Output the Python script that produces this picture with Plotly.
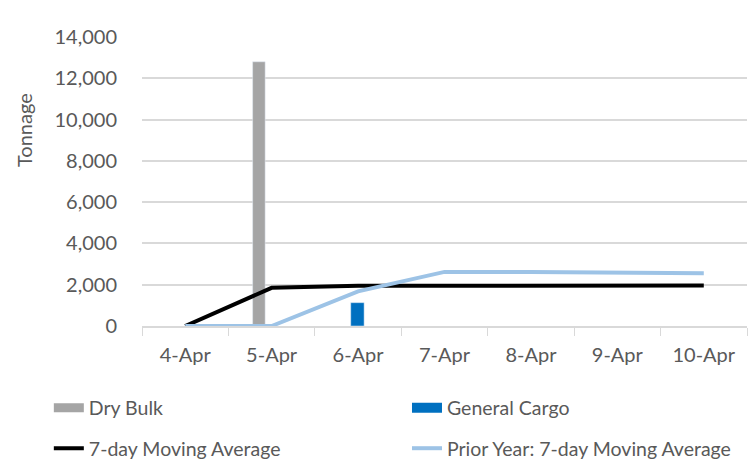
import plotly.graph_objects as go

categories = ["4-Apr", "5-Apr", "6-Apr", "7-Apr", "8-Apr", "9-Apr", "10-Apr"]
dry_bulk = [None, 12800, None, None, None, None, None]
general_cargo = [None, None, 1130, None, None, None, None]
moving_avg = [0, 1850, 1950, 1960, 1960, 1960, 1960]
prior_year_avg = [0, 0, 1680, 2620, 2610, 2600, 2550]
y_ticks = [0, 2000, 4000, 6000, 8000, 10000, 12000, 14000]

FONT = "Lato"
TXT = "#595959"
GREY = "#a5a5a5"
BLUE = "#0070c0"

fig = go.Figure()
fig.add_trace(go.Bar(x=categories, y=dry_bulk, name="Dry Bulk", marker_color=GREY,
                     width=0.145, offset=-0.22, showlegend=False))
fig.add_trace(go.Bar(x=categories, y=general_cargo, name="General Cargo", marker_color=BLUE,
                     width=0.155, offset=-0.085, showlegend=False))
fig.add_trace(go.Scatter(x=categories, y=moving_avg, name="7-day Moving Average", mode="lines",
                         line=dict(color="#000000", width=4), legend="legend3"))
fig.add_trace(go.Scatter(x=categories, y=prior_year_avg, name="Prior Year: 7-day Moving Average",
                         mode="lines", line=dict(color="#9dc3e6", width=4), legend="legend4"))
# legend swatches for the bar series
fig.add_trace(go.Scatter(x=[None], y=[None], name="Dry Bulk", mode="lines",
                         line=dict(color=GREY, width=9), legend="legend"))
fig.add_trace(go.Scatter(x=[None], y=[None], name="General Cargo", mode="lines",
                         line=dict(color=BLUE, width=11), legend="legend2"))

def leg(x, y):
    return dict(orientation="h", x=x, y=y, xanchor="left", yanchor="middle",
                xref="paper", yref="paper",
                font=dict(family=FONT, size=19.5, color=TXT), bgcolor="rgba(0,0,0,0)")

fig.update_layout(
    width=756, height=464,
    margin=dict(l=134, r=17, t=29, b=146, autoexpand=False),
    paper_bgcolor="white", plot_bgcolor="white",
    barmode="overlay",
    font=dict(family=FONT, size=20, color=TXT),
    legend=leg(-0.154, -0.284),
    legend2=leg(0.438, -0.284),
    legend3=leg(-0.154, -0.424),
    legend4=leg(0.438, -0.424),
    xaxis=dict(
        type="category", showline=True, linecolor="#d9d9d9", linewidth=1.5,
        ticks="outside", tickson="boundaries", ticklen=8, tickcolor="#d9d9d9",
        tickfont=dict(family=FONT, size=20, color=TXT), showgrid=False,
        ticklabelstandoff=10, range=[-0.5, 6.5],
    ),
    yaxis=dict(
        range=[0, 14000], tickvals=y_ticks, tickformat=",", showgrid=True,
        gridcolor="#d9d9d9", gridwidth=1.5, zeroline=False, showline=False,
        ticks="", ticklabelstandoff=24,
        tickfont=dict(family=FONT, size=20, color=TXT),
    ),
    annotations=[dict(text="Tonnage", xref="paper", yref="paper", x=-0.195, y=0.678,
                      xanchor="center", yanchor="middle", textangle=-90, showarrow=False,
                      font=dict(family=FONT, size=20, color=TXT))],
)

fig.write_html("out.html")
